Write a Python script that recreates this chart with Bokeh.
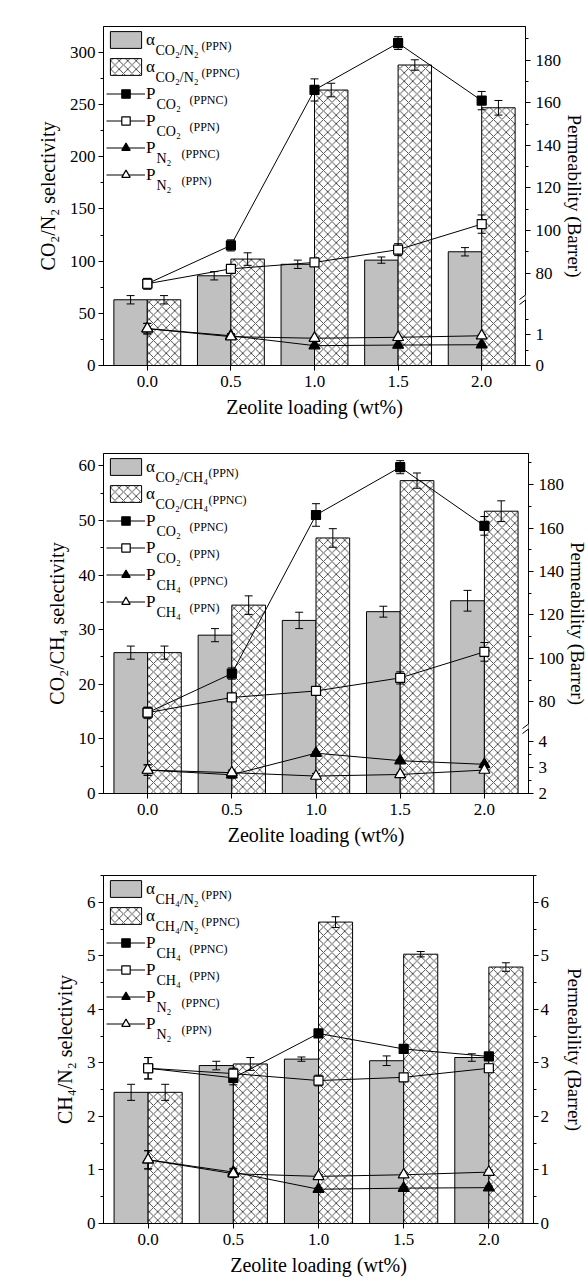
import numpy as np
from bokeh.plotting import figure
from bokeh.models import (Range1d, LinearAxis, FixedTicker, SingleIntervalTicker,
                          NumeralTickFormatter, Legend, LegendItem, Label, Arrow)
from bokeh.layouts import column
from bokeh.embed import file_html
from bokeh.resources import INLINE

SERIF = "Liberation Serif"

# ---------------- data ----------------
loading = [0.0, 0.5, 1.0, 1.5, 2.0]

# (a) CO2/N2 selectivity
alpha_co2n2_ppn = [63, 86, 97, 101, 109]
alpha_co2n2_ppn_err = [4, 4, 4, 3, 4]
alpha_co2n2_ppnc = [63, 102, 264, 288, 247]
alpha_co2n2_ppnc_err = [4, 6, 6.5, 5, 7]

# (b) CO2/CH4 selectivity
alpha_co2ch4_ppn = [25.8, 29.0, 31.7, 33.3, 35.3]
alpha_co2ch4_ppn_err = [1.2, 1.2, 1.5, 1.0, 1.9]
alpha_co2ch4_ppnc = [25.8, 34.5, 46.8, 57.3, 51.7]
alpha_co2ch4_ppnc_err = [1.2, 1.7, 1.7, 1.4, 1.9]

# (c) CH4/N2 selectivity
alpha_ch4n2_ppn = [2.45, 2.95, 3.07, 3.04, 3.10]
alpha_ch4n2_ppn_err = [0.15, 0.08, 0.04, 0.09, 0.07]
alpha_ch4n2_ppnc = [2.45, 2.98, 5.63, 5.03, 4.79]
alpha_ch4n2_ppnc_err = [0.15, 0.12, 0.10, 0.05, 0.08]

# permeabilities (Barrer)
p_co2_ppnc = [75, 93, 166, 188, 161]
p_co2_ppnc_err = [2.5, 2.6, 5.2, 3.0, 4.3]
p_co2_ppn = [75, 82, 85, 91, 103]
p_co2_ppn_err = [2.5, 1.5, 1.5, 2.8, 4.3]
p_n2_ppnc = [1.19, 0.96, 0.64, 0.66, 0.67]
p_n2_ppnc_err = [0.17, 0.07, 0.03, 0.03, 0.03]
p_n2_ppn = [1.19, 0.93, 0.88, 0.91, 0.96]
p_n2_ppn_err = [0.17, 0.07, 0.03, 0.03, 0.04]
p_ch4_ppnc = [2.90, 2.72, 3.55, 3.26, 3.12]
p_ch4_ppnc_err = [0.20, 0.13, 0.05, 0.04, 0.05]
p_ch4_ppn = [2.90, 2.80, 2.67, 2.73, 2.90]
p_ch4_ppn_err = [0.20, 0.10, 0.10, 0.05, 0.08]

x_label = "Zeolite loading (wt%)"
right_label = "Permeability (Barrer)"

BAR_W = 0.2
GREY = "#c0c0c0"
LEG_MARGIN = 3


def errbar(p, xs, ys, errs, rng="default", cap=8):
    xs = np.asarray(xs, float)
    ys = np.asarray(ys, float)
    e = np.asarray(errs, float)
    p.segment(x0=xs, y0=ys - e, x1=xs, y1=ys + e, line_color="black",
              line_width=1, y_range_name=rng)
    p.scatter(np.concatenate([xs, xs]), np.concatenate([ys - e, ys + e]),
              marker="dash", size=cap, line_color="black", line_width=1,
              y_range_name=rng)


def style_axis(ax, size="17px"):
    ax.major_label_text_font = SERIF
    ax.major_label_text_font_size = size
    ax.major_label_text_color = "black"
    ax.axis_label_text_font = SERIF
    ax.axis_label_text_font_size = "20px"
    ax.axis_label_text_font_style = "normal"
    ax.axis_label_text_color = "black"
    ax.axis_line_color = "black"
    ax.axis_line_width = 1
    ax.major_tick_line_color = "black"
    ax.minor_tick_line_color = "black"
    ax.major_tick_in = 0
    ax.major_tick_out = 5
    ax.minor_tick_in = 0
    ax.minor_tick_out = 3


def screen_line(p, x0, y0, x1, y1, color="black", width=1):
    p.add_layout(Arrow(start=None, end=None, x_start=x0, y_start=y0, x_end=x1, y_end=y1,
                       start_units="screen", end_units="screen",
                       line_color=color, line_width=width))


def make_panel(cfg):
    fw, fh = cfg["fw"], cfg["fh"]
    p = figure(frame_width=fw, frame_height=fh,
               x_range=Range1d(-0.262, 2.262), y_range=Range1d(0, cfg["ymax"]),
               output_backend="svg", toolbar_location=None,
               min_border_left=cfg["bl"], min_border_right=cfg["br"],
               min_border_top=cfg["bt"], min_border_bottom=cfg["bb"])
    p.xgrid.visible = False
    p.ygrid.visible = False
    p.outline_line_color = "black"
    p.outline_line_width = 1
    p.background_fill_color = "white"
    p.border_fill_color = "white"

    # permeability ranges
    if cfg["broken"]:
        lo0, lo1 = cfg["lo"]
        hi0, hi1 = cfg["hi"]
        p.extra_y_ranges = {"lo": Range1d(lo0, lo1), "hi": Range1d(hi0, hi1)}

        def hi_to_lo(v):
            return round(lo0 + (v - hi0) / (hi1 - hi0) * (lo1 - lo0), 5)

        maj = [float(v) for v in cfg["lo_major"]] + [hi_to_lo(v) for v in cfg["hi_major"]]
        mnr = [float(v) for v in cfg["lo_minor"]] + [hi_to_lo(v) for v in cfg["hi_minor"]]
        overrides = {}
        for v in cfg["lo_major"]:
            overrides[float(v)] = str(v)
        for v in cfg["hi_major"]:
            overrides[hi_to_lo(v)] = str(v)
        rax = LinearAxis(y_range_name="lo",
                         ticker=FixedTicker(ticks=maj, minor_ticks=mnr),
                         major_label_overrides=overrides)
        sq_rng, tri_rng = "hi", "lo"
    else:
        p.extra_y_ranges = {"perm": Range1d(0, cfg["ymax"])}
        rax = LinearAxis(y_range_name="perm",
                         ticker=SingleIntervalTicker(interval=1, num_minor_ticks=2))
        sq_rng, tri_rng = "perm", "perm"
    style_axis(rax)
    rax.axis_label = right_label
    rax.axis_label_text_font_size = "19px"
    rax.major_label_standoff = cfg["r_std"]
    rax.axis_label_standoff = cfg["r_lstd"]
    try:
        rax.axis_label_orientation = "vertical"
    except Exception:
        pass
    p.add_layout(rax, "right")

    # left axis
    lax = p.yaxis[0]
    lax.ticker = SingleIntervalTicker(interval=cfg["yint"], num_minor_ticks=2)
    lax.axis_label = cfg["ylabel"]
    style_axis(lax)
    lax.major_label_standoff = 3
    lax.axis_label_standoff = 8

    bax = p.xaxis[0]
    bax.ticker = FixedTicker(ticks=loading, minor_ticks=[])
    bax.formatter = NumeralTickFormatter(format="0.0")
    bax.axis_label = x_label
    style_axis(bax)
    bax.major_label_standoff = 5
    bax.axis_label_standoff = 6

    x = np.asarray(loading, float)
    # bars
    r_grey = p.vbar(x=x - BAR_W / 2, top=cfg["a_ppn"], width=BAR_W, bottom=0,
                    fill_color=GREY, line_color="black", line_width=1)
    r_hatch = p.vbar(x=x + BAR_W / 2, top=cfg["a_ppnc"], width=BAR_W, bottom=0,
                     fill_color="white", line_color="black", line_width=1,
                     hatch_pattern="diagonal_cross", hatch_color="black",
                     hatch_scale=8.5, hatch_weight=0.7)
    errbar(p, x - BAR_W / 2, cfg["a_ppn"], cfg["a_ppn_err"])
    errbar(p, x + BAR_W / 2, cfg["a_ppnc"], cfg["a_ppnc_err"])

    # permeability error bars
    errbar(p, x, cfg["sq_ppnc"], cfg["sq_ppnc_err"], sq_rng)
    errbar(p, x, cfg["sq_ppn"], cfg["sq_ppn_err"], sq_rng)
    errbar(p, x, cfg["tr_ppnc"], cfg["tr_ppnc_err"], tri_rng)
    errbar(p, x, cfg["tr_ppn"], cfg["tr_ppn_err"], tri_rng)

    series = [
        (cfg["sq_ppnc"], sq_rng, "square", "black", 9),
        (cfg["sq_ppn"], sq_rng, "square", "white", 9),
        (cfg["tr_ppnc"], tri_rng, "triangle", "black", 11),
        (cfg["tr_ppn"], tri_rng, "triangle", "white", 11),
    ]
    line_rs = []
    for ys, rng, mk, fc, sz in series:
        line_rs.append(p.line(x, ys, line_color="black", line_width=1, y_range_name=rng))
    mark_rs = []
    for ys, rng, mk, fc, sz in series:
        mark_rs.append(p.scatter(x, ys, marker=mk, size=sz, fill_color=fc,
                                 line_color="black", line_width=1.2, y_range_name=rng))

    # legend: swatches with the main symbol as label; subscripts added as labels
    mains = [t[0] for t in cfg["leg_text"]]
    items = [LegendItem(label=mains[0], renderers=[r_grey]),
             LegendItem(label=mains[1], renderers=[r_hatch])]
    for k, (lr, mr) in enumerate(zip(line_rs, mark_rs)):
        items.append(LegendItem(label=mains[2 + k], renderers=[lr, mr]))
    leg = Legend(items=items, location="top_left", padding=0, margin=LEG_MARGIN,
                 spacing=6, glyph_width=39, glyph_height=21, label_height=21,
                 label_standoff=1, label_text_font=SERIF, label_text_font_size="17px",
                 label_text_color="black", border_line_color=None,
                 background_fill_alpha=0)
    p.add_layout(leg)

    for i, (main, sub, tag, sx) in enumerate(cfg["leg_text"]):
        c = LEG_MARGIN + 10.5 + 27 * i
        xs_ = 52 if main == "α" else 53
        for txt, xx, dy, fs in [(sub, xs_, 10.5, "14px"), (tag, sx, 5.5, "12px")]:
            p.add_layout(Label(x=xx, y=fh - (c + dy), x_units="screen", y_units="screen",
                               text=txt, text_font=SERIF, text_font_size=fs,
                               text_baseline="alphabetic", text_align="left",
                               text_color="black"))

    # panel tag
    p.add_layout(Label(x=-cfg["bl"] + 6, y=fh + 4, x_units="screen", y_units="screen",
                       text=cfg["tag"], text_font="Lato", text_font_size="22px",
                       text_baseline="middle", text_align="left", text_color="black"))

    # axis break mark on the right axis
    if cfg["broken"]:
        yb = cfg["break_px"]
        screen_line(p, fw, yb - 2.5, fw, yb + 2.5, color="white", width=4)
        for dy in (-2.5, 2.5):
            screen_line(p, fw - 6, yb + dy - 4.5, fw + 6, yb + dy + 4.5)
    return p


cfg_a = dict(
    tag="(a)", fw=422, fh=339, bl=103, br=63, bt=26, bb=60, ymax=324.9, yint=50,
    ylabel="CO₂/N₂ selectivity", r_std=5, r_lstd=0,
    a_ppn=alpha_co2n2_ppn, a_ppn_err=alpha_co2n2_ppn_err,
    a_ppnc=alpha_co2n2_ppnc, a_ppnc_err=alpha_co2n2_ppnc_err,
    sq_ppnc=p_co2_ppnc, sq_ppnc_err=p_co2_ppnc_err, sq_ppn=p_co2_ppn, sq_ppn_err=p_co2_ppn_err,
    tr_ppnc=p_n2_ppnc, tr_ppnc_err=p_n2_ppnc_err, tr_ppn=p_n2_ppn, tr_ppn_err=p_n2_ppn_err,
    broken=True, lo=(0, 10.94), hi=(36.6, 195.8),
    lo_major=[0, 1], lo_minor=[0.5, 1.5],
    hi_major=[80, 100, 120, 140, 160, 180], hi_minor=[90, 110, 130, 150, 170, 190],
    break_px=68,
    leg_text=[("α", "CO₂/N₂", "(PPN)", 98), ("α", "CO₂/N₂", "(PPNC)", 98),
              ("P", "CO₂", "(PPNC)", 86), ("P", "CO₂", "(PPN)", 86),
              ("P", "N₂", "(PPNC)", 78), ("P", "N₂", "(PPN)", 78)],
)

cfg_b = dict(
    tag="(b)", fw=425, fh=340, bl=101, br=62, bt=28, bb=57, ymax=62.27, yint=10,
    ylabel="CO₂/CH₄ selectivity", r_std=5, r_lstd=0,
    a_ppn=alpha_co2ch4_ppn, a_ppn_err=alpha_co2ch4_ppn_err,
    a_ppnc=alpha_co2ch4_ppnc, a_ppnc_err=alpha_co2ch4_ppnc_err,
    sq_ppnc=p_co2_ppnc, sq_ppnc_err=p_co2_ppnc_err, sq_ppn=p_co2_ppn, sq_ppn_err=p_co2_ppn_err,
    tr_ppnc=p_ch4_ppnc, tr_ppnc_err=p_ch4_ppnc_err, tr_ppn=p_ch4_ppn, tr_ppn_err=p_ch4_ppn_err,
    broken=True, lo=(2, 15.06), hi=(37.8, 194.3),
    lo_major=[2, 3, 4], lo_minor=[2.5, 3.5],
    hi_major=[80, 100, 120, 140, 160, 180], hi_minor=[90, 110, 130, 150, 170, 190],
    break_px=67,
    leg_text=[("α", "CO₂/CH₄", "(PPN)", 105), ("α", "CO₂/CH₄", "(PPNC)", 105),
              ("P", "CO₂", "(PPNC)", 86), ("P", "CO₂", "(PPN)", 86),
              ("P", "CH₄", "(PPNC)", 86), ("P", "CH₄", "(PPN)", 86)],
)

cfg_c = dict(
    tag="(c)", fw=430, fh=348, bl=101, br=57, bt=25, bb=58, ymax=6.5, yint=1,
    ylabel="CH₄/N₂ selectivity", r_std=2, r_lstd=12,
    a_ppn=alpha_ch4n2_ppn, a_ppn_err=alpha_ch4n2_ppn_err,
    a_ppnc=alpha_ch4n2_ppnc, a_ppnc_err=alpha_ch4n2_ppnc_err,
    sq_ppnc=p_ch4_ppnc, sq_ppnc_err=p_ch4_ppnc_err, sq_ppn=p_ch4_ppn, sq_ppn_err=p_ch4_ppn_err,
    tr_ppnc=p_n2_ppnc, tr_ppnc_err=p_n2_ppnc_err, tr_ppn=p_n2_ppn, tr_ppn_err=p_n2_ppn_err,
    broken=False,
    leg_text=[("α", "CH₄/N₂", "(PPN)", 98), ("α", "CH₄/N₂", "(PPNC)", 98),
              ("P", "CH₄", "(PPNC)", 86), ("P", "CH₄", "(PPN)", 86),
              ("P", "N₂", "(PPNC)", 78), ("P", "N₂", "(PPN)", 78)],
)

pa = make_panel(cfg_a)
pb = make_panel(cfg_b)
pc = make_panel(cfg_c)

layout = column(pa, pb, pc, spacing=0)
open("out.html", "w").write(file_html(layout, INLINE))
